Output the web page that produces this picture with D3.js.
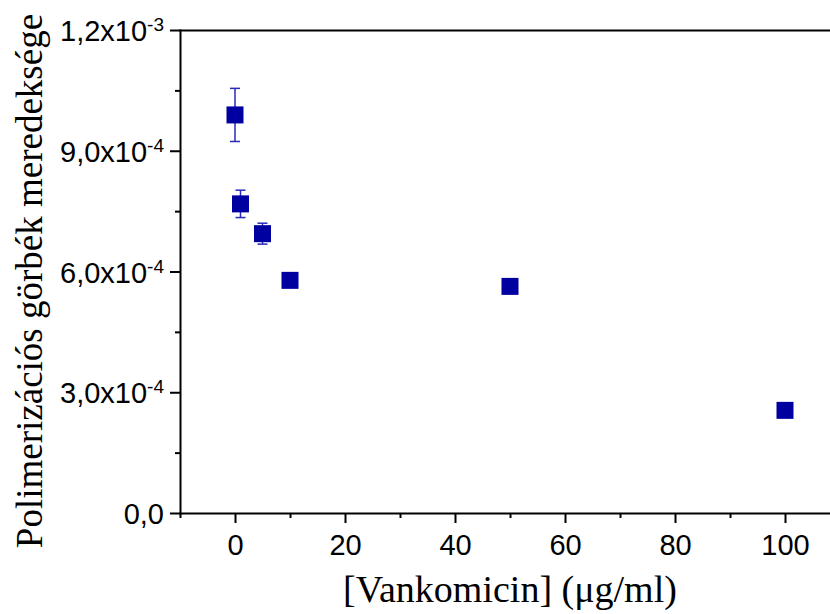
<!DOCTYPE html>
<html>
<head>
<meta charset="utf-8">
<script src="https://cdn.jsdelivr.net/npm/d3@7"></script>
<style>
  html, body { margin: 0; padding: 0; background: #fff; }
  svg { display: block; }
  .sans { font-family: "Liberation Sans", Arial, sans-serif; }
  .serif { font-family: "Liberation Serif", "Times New Roman", serif; }
</style>
</head>
<body>
<svg id="chart" width="830" height="614"></svg>
<script>
// Data
const concentrations = [0, 1, 5, 10, 50, 100];
const slopes = [0.989e-3, 0.768e-3, 0.694e-3, 0.578e-3, 0.563e-3, 0.255e-3];
const slopeErrors = [0.066e-3, 0.034e-3, 0.026e-3, 0.008e-3, 0.006e-3, 0.006e-3];
const xMajorTicks = [0, 20, 40, 60, 80, 100];
const xMinorTicks = [-10, 10, 30, 50, 70, 90];
const yMajorTicks = [0, 0.3e-3, 0.6e-3, 0.9e-3, 1.2e-3];
const yTickMantissa = ["0,0", "3,0x10", "6,0x10", "9,0x10", "1,2x10"];
const yTickExponent = ["", "-4", "-4", "-4", "-3"];
const yMinorTicks = [0.15e-3, 0.45e-3, 0.75e-3, 1.05e-3];
const xTitle = "[Vankomicin] (\u03BCg/ml)";
const yTitle = "Polimerizációs görbék meredeksége";

(function () {
const svg = d3.select("#chart");
const mLeft = 180, mTop = 30, mBottom = 513;
const x = d3.scaleLinear().domain([-10, 110]).range([mLeft, mLeft + 660]);
const y = d3.scaleLinear().domain([0, 1.2e-3]).range([mBottom, mTop]);

const axisColor = "#000";
const markColor = "#0000a0";
const errColor = "#2a2ab8";

// Axes
const gx = svg.append("g").attr("transform", `translate(0,${mBottom})`);
gx.call(d3.axisBottom(x).tickValues(xMajorTicks).tickSize(10).tickSizeOuter(0).tickFormat(d3.format("d")));
const gxm = svg.append("g").attr("transform", `translate(0,${mBottom})`);
gxm.call(d3.axisBottom(x).tickValues(xMinorTicks).tickSize(5).tickSizeOuter(0).tickFormat(""));
gxm.select(".domain").remove();

const gy = svg.append("g").attr("transform", `translate(${mLeft},0)`);
gy.call(d3.axisLeft(y).tickValues(yMajorTicks).tickSize(10).tickSizeOuter(0).tickFormat(""));
const gym = svg.append("g").attr("transform", `translate(${mLeft},0)`);
gym.call(d3.axisLeft(y).tickValues(yMinorTicks).tickSize(5).tickSizeOuter(0).tickFormat(""));
gym.select(".domain").remove();

// top axis line
const gt = svg.append("g").attr("transform", `translate(0,${mTop})`);
gt.call(d3.axisTop(x).tickValues([]).tickSizeOuter(0));

svg.selectAll(".domain, .tick line").attr("stroke", axisColor).attr("stroke-width", 2);
svg.selectAll(".domain").attr("stroke-linecap", "square");

gx.attr("font-family", null).attr("font-size", null);
gx.selectAll(".tick text")
  .attr("class", "sans")
  .style("font-size", "29px").attr("fill", "#000")
  .attr("dy", null).attr("y", 42);

// y tick labels
const ylab = svg.append("g");
yMajorTicks.forEach((v, i) => {
  const t = ylab.append("text")
    .attr("class", "sans")
    .attr("x", 164).attr("y", y(v) + 11)
    .attr("text-anchor", "end")
    .style("font-size", "29px").attr("fill", "#000");
  t.append("tspan").text(yTickMantissa[i]);
  if (yTickExponent[i]) {
    t.append("tspan").style("font-size", "19px").attr("dy", -10).text(yTickExponent[i]);
  }
});

// Titles
svg.append("text")
  .attr("class", "serif")
  .attr("x", 510).attr("y", 602)
  .attr("text-anchor", "middle")
  .style("font-size", "38px").attr("fill", "#000")
  .text(xTitle);

svg.append("text")
  .attr("class", "serif")
  .attr("transform", "translate(42,281) rotate(-90)")
  .attr("text-anchor", "middle")
  .style("font-size", "37px").attr("fill", "#000")
  .text(yTitle);

// Data marks
const data = concentrations.map((c, i) => ({ c, v: slopes[i], e: slopeErrors[i] }));
const eb = svg.append("g").attr("stroke", errColor).attr("stroke-width", 1.5).attr("fill", "none");
data.forEach(d => {
  const cx = x(d.c);
  eb.append("line").attr("x1", cx).attr("x2", cx).attr("y1", y(d.v + d.e)).attr("y2", y(d.v - d.e));
  eb.append("line").attr("x1", cx - 5).attr("x2", cx + 5).attr("y1", y(d.v + d.e)).attr("y2", y(d.v + d.e));
  eb.append("line").attr("x1", cx - 5).attr("x2", cx + 5).attr("y1", y(d.v - d.e)).attr("y2", y(d.v - d.e));
});

const s = 17;
svg.append("g").selectAll("rect").data(data).join("rect")
  .attr("x", d => x(d.c) - s / 2)
  .attr("y", d => y(d.v) - s / 2)
  .attr("width", s).attr("height", s)
  .attr("fill", markColor);
})();
</script>
</body>
</html>
